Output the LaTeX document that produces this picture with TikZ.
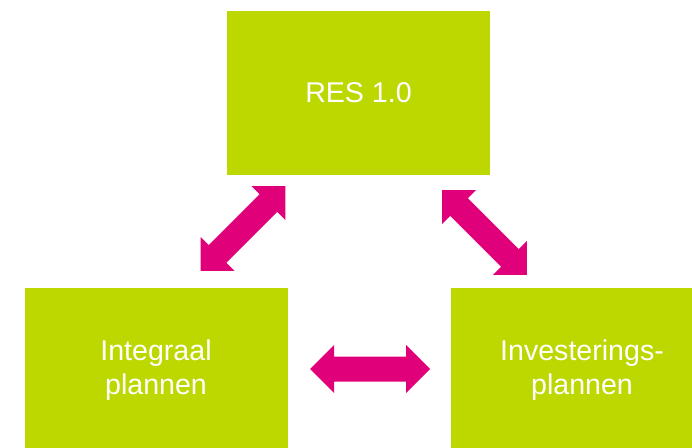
\documentclass[tikz,border=0pt]{standalone}
\usepackage{fontspec}
\setmainfont{Liberation Sans}
\definecolor{boxgreen}{RGB}{189,215,0}
\definecolor{arrowpink}{RGB}{224,0,122}
\newcommand\mydblarrow[3]{%
  \begin{scope}[shift={#1},rotate=#2]
    \coordinate (#3) at (0,0);
    \fill[arrowpink] (-60,0) -- (-36,24) -- (-36,12.5) -- (36,12.5) -- (36,24)
      -- (60,0) -- (36,-24) -- (36,-12.5) -- (-36,-12.5) -- (-36,-24) -- cycle;
  \end{scope}}
\begin{document}
\begin{tikzpicture}[x=1pt,y=1pt,
  greenbox/.style={fill=boxgreen, draw=none, minimum width=263pt, minimum height=164pt,
    inner sep=0pt, text=white, align=center, font=\fontsize{28.6}{34}\selectfont}]
  \clip (0,0) rectangle (692,447);
  \node[greenbox] (res) at (358.5,354) {RES 1.0};
  \node[greenbox] (integraal) at (156,77) {Integraal\\plannen};
  \node[greenbox] (invest) at (582,77) {Investerings-\\plannen};
  \mydblarrow{(243,218.5)}{45}{arrowA}
  \mydblarrow{(484.5,214.5)}{-45}{arrowB}
  \mydblarrow{(370,78)}{0}{arrowC}
\end{tikzpicture}
\end{document}
